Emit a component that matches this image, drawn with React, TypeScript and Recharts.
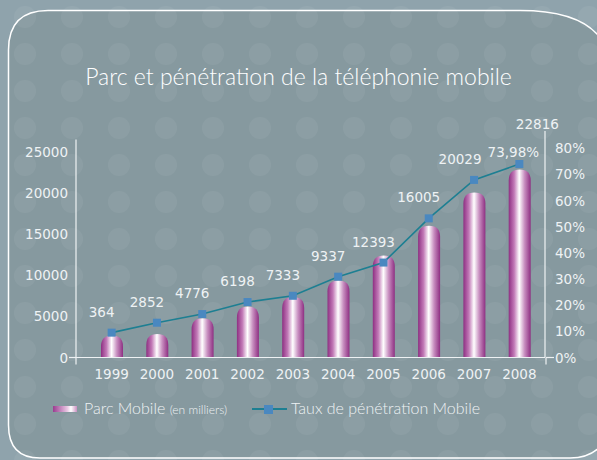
import { ComposedChart, Bar, Line, XAxis, YAxis, LabelList } from 'recharts';

const years = ['1999', '2000', '2001', '2002', '2003', '2004', '2005', '2006', '2007', '2008'];
const parcMobile = [364, 2852, 4776, 6198, 7333, 9337, 12393, 16005, 20029, 22816];
const tauxPenetration = [9.5, 13.3, 16.6, 21.2, 23.6, 30.9, 36.3, 53.2, 67.9, 73.98];
const leftTicks = [0, 5000, 10000, 15000, 20000, 25000];
const rightTicks = [0, 10, 20, 30, 40, 50, 60, 70, 80];

const data = years.map((year, i) => ({
  year,
  parc: parcMobile[i],
  taux: tauxPenetration[i],
}));

const TXT = '#eef2f4';
const NUM_FONT = '"DejaVu Sans", Verdana, sans-serif';
const TITLE_FONT = 'Lato, "Open Sans", sans-serif';
const numStyle = { fill: TXT, fontSize: 13.5, fontFamily: NUM_FONT };

// cylinder-like bar with a rounded cap
const BarShape = (props: any) => {
  const { x, y, width, height } = props;
  const bottom = y + height;
  const h = Math.max(height, 22);
  const top = bottom - h;
  const ry = 11;
  const d = `M${x},${bottom} L${x},${top + ry} Q${x},${top} ${x + width / 2},${top} Q${x + width},${top} ${x + width},${top + ry} L${x + width},${bottom} Z`;
  return <path d={d} fill="url(#barGrad)" />;
};

const SquareDot = (props: any) => {
  const { cx, cy } = props;
  if (cx == null || cy == null) return null;
  return <rect x={cx - 4} y={cy - 4} width={8} height={8} fill="#4a88c0" />;
};

const LeftTick = (props: any) => {
  const { x, y, payload } = props;
  return (
    <g>
      <text x={x} y={y + 5} textAnchor="end" {...numStyle}>
        {payload.value}
      </text>
      {payload.value === 0 && (
        <>
          <line x1={x + 1} y1={y} x2={x + 8} y2={y} stroke={TXT} strokeWidth={1.2} />
          {/* left axis line is shorter than the plot, as in the original */}
          <line x1={x + 8} y1={y + 7} x2={x + 8} y2={y - 218} stroke={TXT} strokeWidth={1.2} />
        </>
      )}
    </g>
  );
};

const RightTick = (props: any) => {
  const { x, y, payload } = props;
  return (
    <g>
      <text x={x} y={y + 5} textAnchor="start" {...numStyle}>
        {`${payload.value}%`}
      </text>
      {payload.value === 0 && (
        <>
          <line x1={x - 9} y1={y} x2={x - 1} y2={y} stroke={TXT} strokeWidth={1.2} />
          <line x1={x - 9} y1={y} x2={x - 9} y2={y + 7} stroke={TXT} strokeWidth={1.2} />
        </>
      )}
    </g>
  );
};

const ValueLabel = (props: any) => {
  const { x, y, value, index } = props;
  if (index === data.length - 1) {
    return (
      <g>
        <text x={x + 18} y={y - 35} textAnchor="middle" {...numStyle}>{value}</text>
        <text x={x - 6} y={y - 7} textAnchor="middle" {...numStyle}>
          {`${String(data[index].taux).replace('.', ',')}%`}
        </text>
      </g>
    );
  }
  const dx = index === data.length - 2 ? -14 : -10;
  return (
    <text x={x + dx} y={y - 16} textAnchor="middle" {...numStyle}>{value}</text>
  );
};

const Background = () => (
  <svg width={597} height={460} style={{ position: 'absolute', left: 0, top: 0 }}>
    <defs>
      <pattern id="dots" width={47} height={37} patternUnits="userSpaceOnUse" x={2} y={-2}>
        <circle cx={23} cy={19} r={11} fill="#ffffff" fillOpacity={0.05} />
      </pattern>
    </defs>
    <rect width={597} height={460} fill="#8fa3ac" />
    <path
      d="M8.5,50 Q8.5,10.5 48,10.5 L520,10.5 Q600,10.5 610,60 L610,430 Q600,458 570,458 L40,458 Q8.5,458 8.5,425 Z"
      fill="#86999f"
      stroke="#ffffff"
      strokeWidth={1.5}
    />
    <rect width={597} height={460} fill="url(#dots)" />
  </svg>
);

const Legend = () => (
  <div style={{ position: 'absolute', left: 0, top: 396, width: 597, height: 26, color: TXT, fontFamily: TITLE_FONT }}>
    <div
      style={{
        position: 'absolute', left: 53, top: 10, width: 24, height: 6,
        background: 'linear-gradient(to right, #9a3c90, #e9c8e4 60%, #ffffff 75%, #c98fc1)',
      }}
    />
    <div style={{ position: 'absolute', left: 84, top: 2, fontSize: 16, whiteSpace: 'nowrap', fontWeight: 300 }}>
      Parc Mobile <span style={{ fontSize: 12 }}>(en milliers)</span>
    </div>
    <div style={{ position: 'absolute', left: 252, top: 12, width: 35, height: 2, background: '#1d7f92' }} />
    <div style={{ position: 'absolute', left: 264, top: 9, width: 9, height: 9, background: '#4a88c0' }} />
    <div style={{ position: 'absolute', left: 291, top: 2, fontSize: 16, whiteSpace: 'nowrap', fontWeight: 300 }}>
      Taux de pénétration Mobile
    </div>
  </div>
);

export default function App() {
  return (
    <div style={{ position: 'absolute', left: 0, top: 0, width: 597, height: 460, overflow: 'hidden' }}>
      <Background />
      <div
        style={{
          position: 'absolute', left: 0, top: 62, width: 597, textAlign: 'center',
          color: '#ffffff', fontFamily: TITLE_FONT, fontSize: 23, fontWeight: 300,
        }}
      >
        Parc et pénétration de la téléphonie mobile
      </div>
      <div style={{ position: 'absolute', left: 0, top: 0 }}>
        <ComposedChart width={597} height={460} data={data} margin={{ top: 131, right: 0, bottom: 72.5, left: 0 }}>
          <defs>
            <linearGradient id="barGrad" x1="0" y1="0" x2="1" y2="0">
              <stop offset="0%" stopColor="#8e2f82" />
              <stop offset="25%" stopColor="#c27ab7" />
              <stop offset="48%" stopColor="#ffffff" />
              <stop offset="72%" stopColor="#c88fc0" />
              <stop offset="100%" stopColor="#8e2f82" />
            </linearGradient>
          </defs>
          <XAxis
            dataKey="year"
            height={30}
            padding={{ left: 13, right: 3 }}
            axisLine={{ stroke: TXT, strokeWidth: 1.2 }}
            tickLine={false}
            tickMargin={6}
            tick={numStyle}
            interval={0}
          />
          <YAxis
            yAxisId="left"
            width={76}
            domain={[0, 27500]}
            ticks={leftTicks}
            axisLine={false}
            tickLine={false}
            tickSize={0}
            tickMargin={8}
            tick={<LeftTick />}
          />
          <YAxis
            yAxisId="right"
            orientation="right"
            width={52}
            domain={[0, 86.6]}
            ticks={rightTicks}
            axisLine={{ stroke: TXT, strokeWidth: 1.2 }}
            tickLine={false}
            tickSize={0}
            tickMargin={10}
            tick={<RightTick />}
          />
          <Bar yAxisId="left" dataKey="parc" barSize={22} shape={<BarShape />} isAnimationActive={false} />
          <Line
            yAxisId="right"
            dataKey="taux"
            type="linear"
            stroke="#1d7f92"
            strokeWidth={1.6}
            dot={<SquareDot />}
            activeDot={false}
            isAnimationActive={false}
          >
            <LabelList dataKey="parc" content={<ValueLabel />} />
          </Line>
        </ComposedChart>
      </div>
      <Legend />
    </div>
  );
}
